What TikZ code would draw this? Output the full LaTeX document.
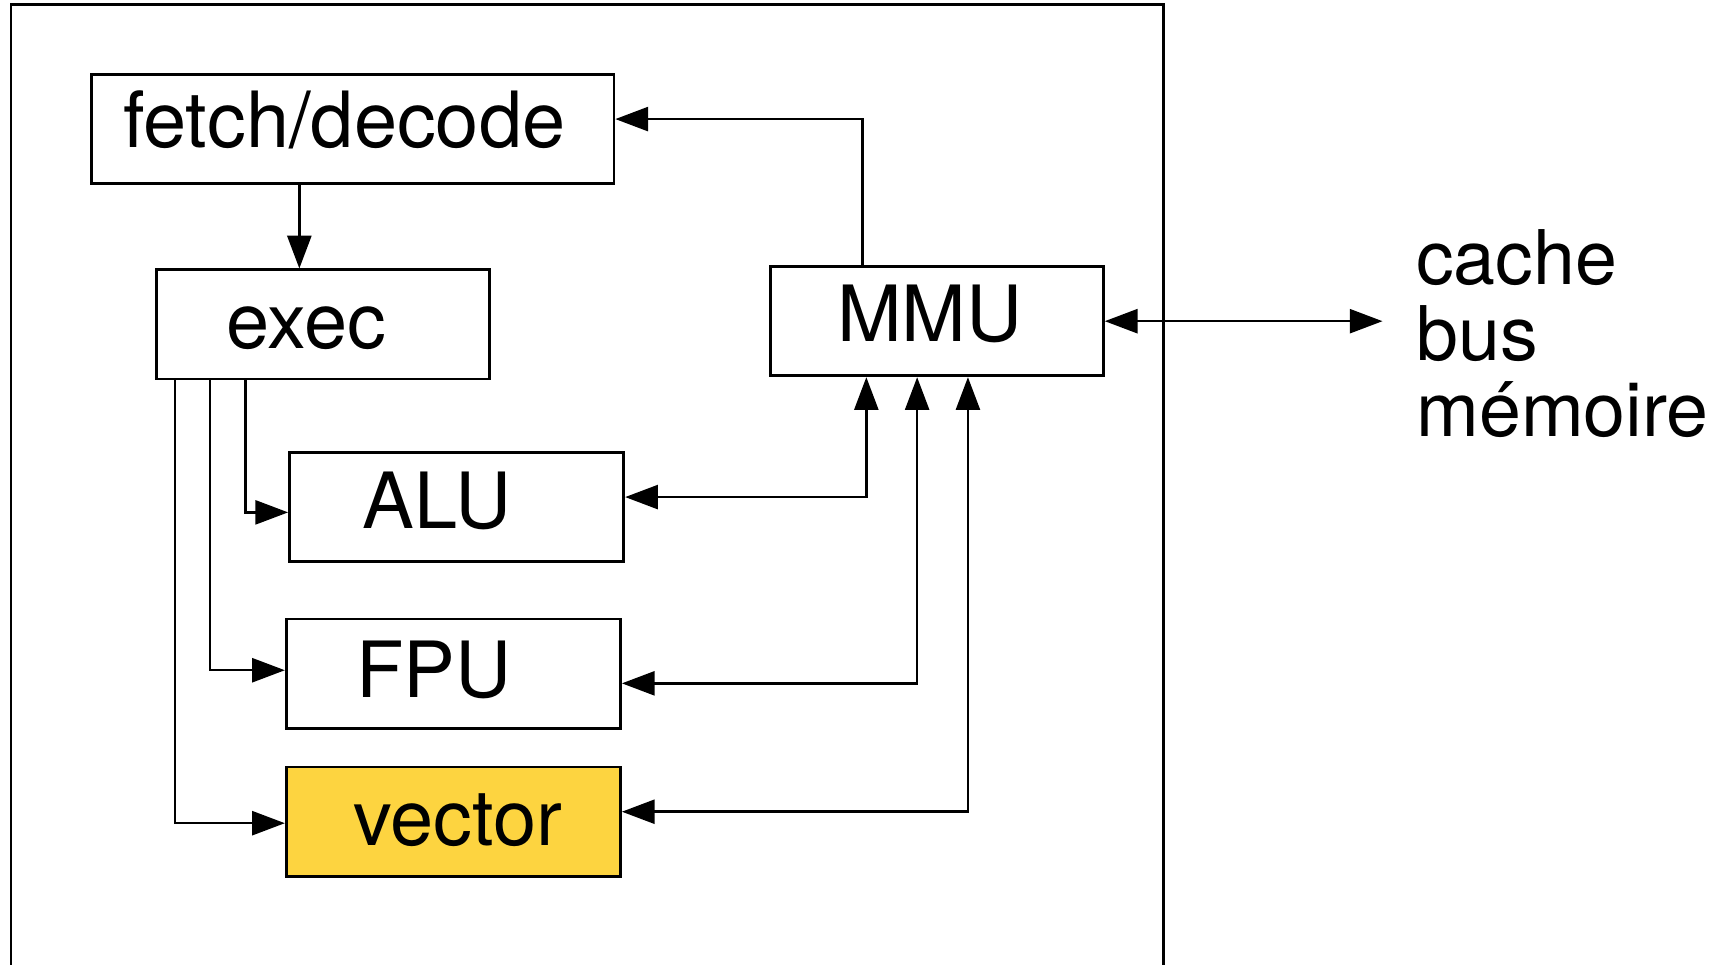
\documentclass[tikz,border=0pt]{standalone}
\usepackage{fontspec}
\setmainfont{TeX Gyre Heros}
\usetikzlibrary{arrows.meta}
\definecolor{vecyellow}{RGB}{253,212,64}
\tikzset{
  box/.style={draw=black, line width=1.25pt, rectangle, inner sep=0pt, minimum height=50pt},
  lbl/.style={inner sep=0pt, anchor=base, font=\fontsize{35.5}{35}\selectfont},
  arr/.style={line width=1.15pt, -{Triangle[length=15pt,width=11pt]}},
  darr/.style={line width=1.15pt, {Triangle[length=15pt,width=11pt]}-{Triangle[length=15pt,width=11pt]}},
  frame/.style={line width=1.25pt}
}
\begin{document}
\begin{tikzpicture}[x=0.5pt,y=-0.5pt]
\useasboundingbox (0,0) rectangle (1568,883);
% outer frame (open at the bottom edge)
\draw[frame] (10,900) |- (1065,4) -- (1065,900);
% boxes
\node[box, minimum width=239pt] (fd) at (323,118) {};
\node[box, minimum width=152.5pt] (ex) at (295.5,297) {};
\node[box, minimum width=152.5pt] (mmu) at (857.5,294) {};
\node[box, minimum width=153pt] (alu) at (418,464) {};
\node[box, minimum width=153pt] (fpu) at (415,616.5) {};
\node[box, minimum width=153pt, fill=vecyellow] (vec) at (415,752) {};
% texts
\node[lbl] (fdt) at (315,135) {fetch/decode};
\node[lbl] (ext) at (280.5,319) {exec};
\node[lbl] (mmut) at (851,313) {MMU};
\node[lbl] (alut) at (400,484) {ALU};
\node[lbl] (fput) at (397,638.5) {FPU};
\node[lbl] (vect) at (419,773.5) {vector};
\node[inner sep=0pt, anchor=base west, align=left, font=\fontsize{34.5}{35}\selectfont] (cache) at (1296,400) {cache\\bus\\mémoire};
% column coordinates
\coordinate (cX) at (274,0);
\coordinate (cA) at (224.5,0);
\coordinate (cF) at (192,0);
\coordinate (cV) at (160,0);
\coordinate (mA) at (793,0);
\coordinate (mF) at (839.5,0);
\coordinate (mV) at (886,0);
\coordinate (mf) at (789.5,0);
\coordinate (bus) at (1265.5,294);
% connectors
\draw[arr] (fd.south -| cX) -- (ex.north -| cX);
\draw[arr] (mmu.north -| mf) |- ([yshift=4.5pt]fd.east);
\draw[darr] (mmu.east) -- (bus);
\draw[arr] (ex.south -| cA) |- ([yshift=-2.5pt]alu.west);
\draw[arr] (ex.south -| cF) |- ([yshift=1.5pt]fpu.west);
\draw[arr] (ex.south -| cV) |- ([yshift=-0.75pt]vec.west);
\draw[darr] ([yshift=4.5pt]alu.east) -| (mmu.south -| mA);
\draw[darr] ([yshift=-4.5pt]fpu.east) -| (mmu.south -| mF);
\draw[darr] ([yshift=4.5pt]vec.east) -| (mmu.south -| mV);
\end{tikzpicture}
\end{document}
